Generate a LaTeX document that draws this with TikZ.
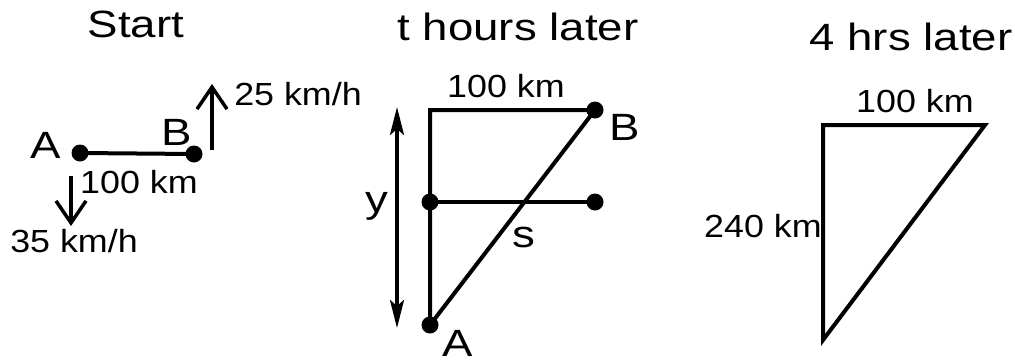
\documentclass[tikz,border=0pt]{standalone}
\usepackage{fontspec}
\setmainfont{Liberation Sans}
\usepackage{tikz}
\usetikzlibrary{arrows.meta}

\tikzset{
  dot/.style={circle, fill=black, inner sep=0pt, minimum size=17pt},
  title/.style={inner sep=0pt, anchor=base, xscale=1.2, font=\fontsize{38}{40}\selectfont},
  letter/.style={inner sep=0pt, anchor=base, xscale=1.2, font=\fontsize{38}{40}\selectfont},
  dist/.style={inner sep=0pt, anchor=base, xscale=1.12, font=\fontsize{32}{34}\selectfont},
  speed/.style={line width=3.5pt, -{Straight Barb[length=22pt, width=30pt]}},
}

\begin{document}
\begin{tikzpicture}[x=1pt, y=-1pt, line width=4pt]
  \useasboundingbox (0,0) rectangle (1015,362);

  % start
  \node[title] (tStart) at (136,37) {Start};
  \node[dot] (A0) at (80,153) {};
  \node[dot] (B0) at (194,154) {};
  \draw (A0.center) -- (B0.center);
  \node[letter] (lA0) at (46,158) {A};
  \node[letter] (lB0) at (177,145) {B};
  \node[dist] (d0) at (139,193) {100 km};
  \coordinate (upS) at (212,150);
  \coordinate (upE) at (212,84);
  \draw[speed] (upS) -- (upE);
  \node[dist] (vB) at (298,105) {25 km/h};
  \coordinate (dnS) at (71,176);
  \coordinate (dnE) at (71,226);
  \draw[speed] (dnS) -- (dnE);
  \node[dist] (vA) at (74,252) {35 km/h};

  % t hours later
  \node[title] (tLater) at (518,40) {t hours later};
  \coordinate (tl) at (430,110);
  \node[dot] (B1) at (595,110) {};
  \node[dot] (M1) at (430,202) {};
  \node[dot] (N1) at (595,202) {};
  \node[dot] (A1) at (430,325) {};
  \draw (A1.center) -- (tl) -- (B1.center) -- cycle;
  \draw (M1.center) -- (N1.center);
  \node[dist] (d1) at (506,97) {100 km};
  \node[letter] (lB1) at (625,140) {B};
  \node[letter] (lA1) at (458,356) {A};
  \node[letter] (ly) at (377,212) {y};
  \node[letter] (ls) at (524,247) {s};
  \coordinate (yT) at (397,107);
  \coordinate (yB) at (397,328);
  \draw[line width=3.5pt, {Stealth[length=28pt, width=14pt, inset=6pt]}-{Stealth[length=28pt, width=14pt, inset=6pt]}] (yT) -- (yB);

  % 4 hrs later
  \node[title] (tFour) at (911,50) {4 hrs later};
  \coordinate (P) at (823,125);
  \coordinate (Q) at (985,125);
  \coordinate (R) at (823,340);
  \draw (R) -- (P) -- (Q) -- cycle;
  \node[dist] (d2) at (915,112) {100 km};
  \node[dist] (d3) at (763,237) {240 km};
\end{tikzpicture}
\end{document}
